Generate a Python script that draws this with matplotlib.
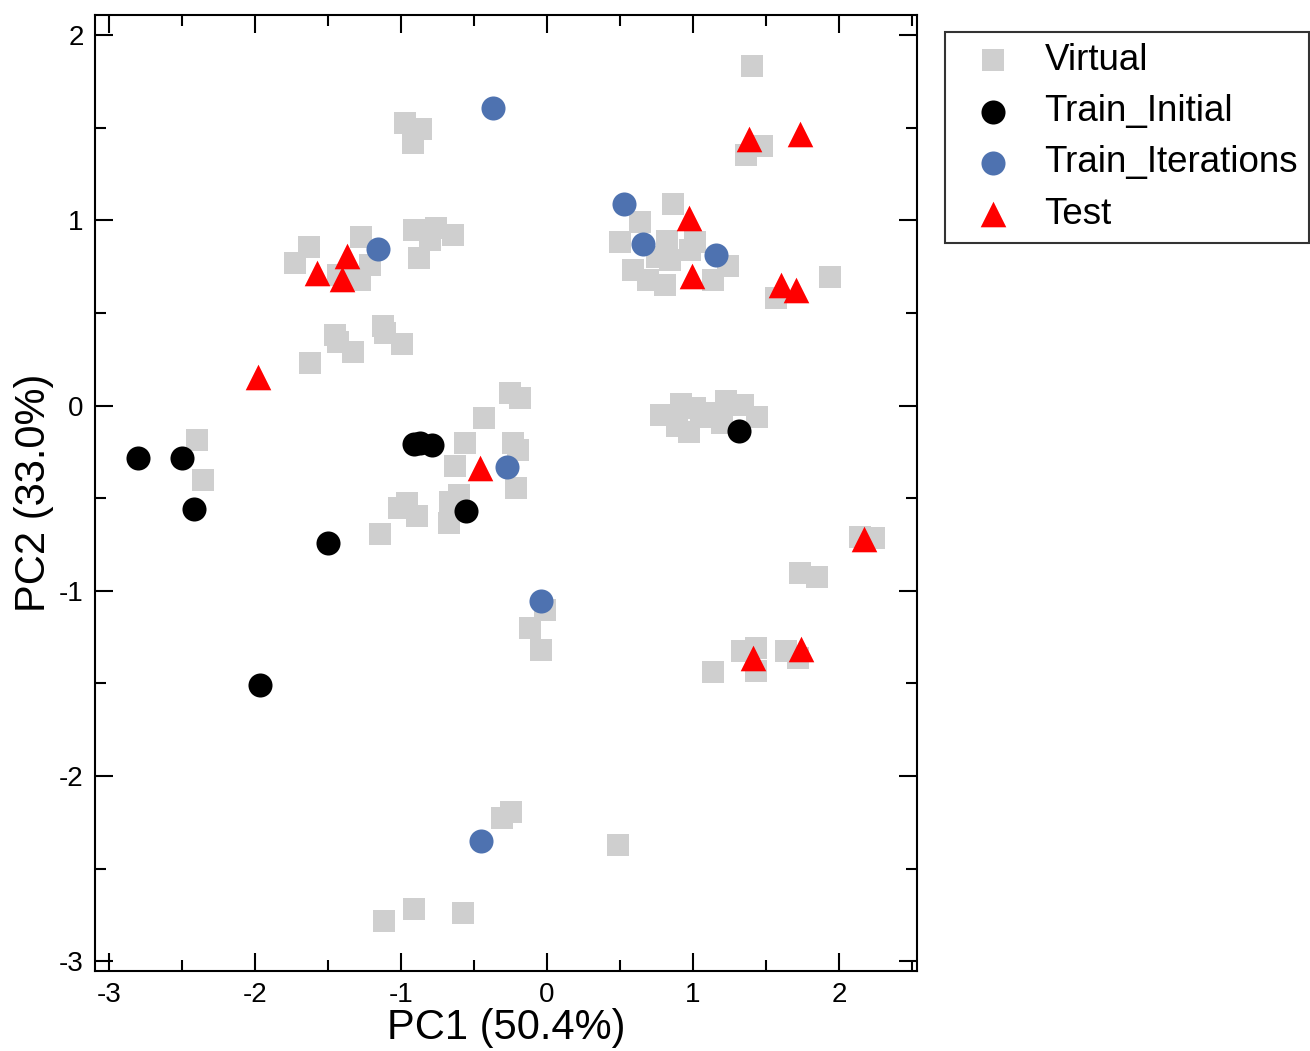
import numpy as np
import matplotlib.pyplot as plt

# PCA scores
virtual_x = [-0.973, -0.863, -0.918,
             -1.630, -1.726, -1.274, -1.212, -1.281, -1.429,
             -0.911, -0.762, -0.642, -0.801, -0.877,
             -1.126, -1.110, -0.995, -1.452, -1.429, -1.331, -1.623,
             -2.397, -2.358,
             -0.253, -0.185, -0.432, -0.562, -0.235, -0.196, -0.630, -0.215,
             -0.961, -0.893, -1.014, -1.144, -0.601, -0.664, -0.671,
             -0.014, -0.116, -0.041,
             -0.248, -0.309, 0.486, -1.119, -0.911, -0.577,
             1.402, 1.470, 1.363,
             0.861, 0.637, 0.500, 0.824, 1.014, 0.587, 0.694, 0.808, 0.842,
             1.242, 1.139, 0.979, 0.750,
             1.938, 1.568,
             0.779, 0.916, 1.014, 0.888, 0.975, 1.053, 1.226, 1.345, 1.436,
             1.196, 1.139,
             2.144, 2.240, 1.733, 1.847,
             1.338, 1.432, 1.432, 1.135, 1.637, 1.717]
virtual_y = [1.527, 1.493, 1.419,
             0.857, 0.771, 0.911, 0.759, 0.678, 0.705,
             0.948, 0.960, 0.920, 0.893, 0.795,
             0.429, 0.390, 0.332, 0.381, 0.345, 0.291, 0.230,
             -0.186, -0.402,
             0.069, 0.039, -0.066, -0.201, -0.201, -0.240, -0.327, -0.444,
             -0.528, -0.597, -0.555, -0.694, -0.483, -0.519, -0.636,
             -1.104, -1.203, -1.320,
             -2.193, -2.229, -2.373, -2.782, -2.719, -2.739,
             1.833, 1.401, 1.353,
             1.088, 0.993, 0.885, 0.890, 0.885, 0.732, 0.678, 0.651, 0.786,
             0.753, 0.678, 0.840, 0.800,
             0.696, 0.582,
             -0.051, 0.008, -0.015, -0.111, -0.141, -0.060, 0.026, 0.003, -0.060,
             -0.096, -0.042,
             -0.708, -0.714, -0.903, -0.924,
             -1.324, -1.311, -1.434, -1.437, -1.324, -1.362]

init_x = [-2.799, -2.502, -2.416, -1.498, -1.966, -0.909, -0.870, -0.790, -0.555, 1.315]
init_y = [-0.282, -0.282, -0.561, -0.744, -1.509, -0.210, -0.204, -0.213, -0.568, -0.136]

iter_x = [-0.370, -1.155, 0.530, 0.660, 1.158, -0.276, -0.043, -0.452]
iter_y = [1.608, 0.843, 1.086, 0.870, 0.813, -0.334, -1.056, -2.350]

test_x = [-1.370, -1.575, -1.402, -1.982, 1.381, 1.735, 0.970, 0.995,
          1.603, 1.705, -0.459, 2.173, 1.409, 1.740]
test_y = [0.808, 0.713, 0.682, 0.154, 1.440, 1.467, 1.012, 0.697,
          0.650, 0.623, -0.340, -0.722, -1.361, -1.316]

plt.rcParams['font.family'] = ['Liberation Sans', 'DejaVu Sans']
plt.rcParams['axes.unicode_minus'] = False

fig = plt.figure(figsize=(13.1, 10.51), dpi=100)
ax = fig.add_axes([0.0725, 0.0761, 0.6275, 0.9096])

ax.scatter(virtual_x, virtual_y, marker='s', s=250, color='#cfcfcf', linewidths=0, label='Virtual')
ax.scatter(init_x, init_y, marker='o', s=300, color='black', linewidths=0, label='Train_Initial')
ax.scatter(iter_x, iter_y, marker='o', s=300, color='#4e72b0', linewidths=0, label='Train_Iterations')
ax.scatter(test_x, test_y, marker='^', s=340, color='#ff0000', linewidths=0, label='Test')

ax.set_xlim(-3.096, 2.534)
ax.set_ylim(-3.053, 2.108)
ax.set_xticks([-3, -2, -1, 0, 1, 2])
ax.set_yticks([-3, -2, -1, 0, 1, 2])
ax.set_xticks(np.arange(-3, 2.6, 0.5), minor=True)
ax.set_yticks(np.arange(-3, 2.1, 0.5), minor=True)
ax.tick_params(which='both', direction='in', top=True, right=True, width=1.5, labelsize=20)
ax.tick_params(which='major', length=13, pad=8)
ax.tick_params(which='minor', length=8)
for sp in ax.spines.values():
    sp.set_linewidth(1.5)

ax.set_xlabel('PC1 (50.4%)', fontsize=30, labelpad=0)
ax.set_ylabel('PC2 (33.0%)', fontsize=30, labelpad=4)

leg = ax.legend(loc='upper left', bbox_to_anchor=(0.7214, 0.9696), bbox_transform=fig.transFigure,
                borderaxespad=0, fontsize=26.5, frameon=True, fancybox=False, edgecolor='black',
                handletextpad=0.4, labelspacing=0.44, borderpad=0.3, scatterpoints=1)
leg.get_frame().set_linewidth(1.5)

plt.savefig('out.png', dpi=100)
